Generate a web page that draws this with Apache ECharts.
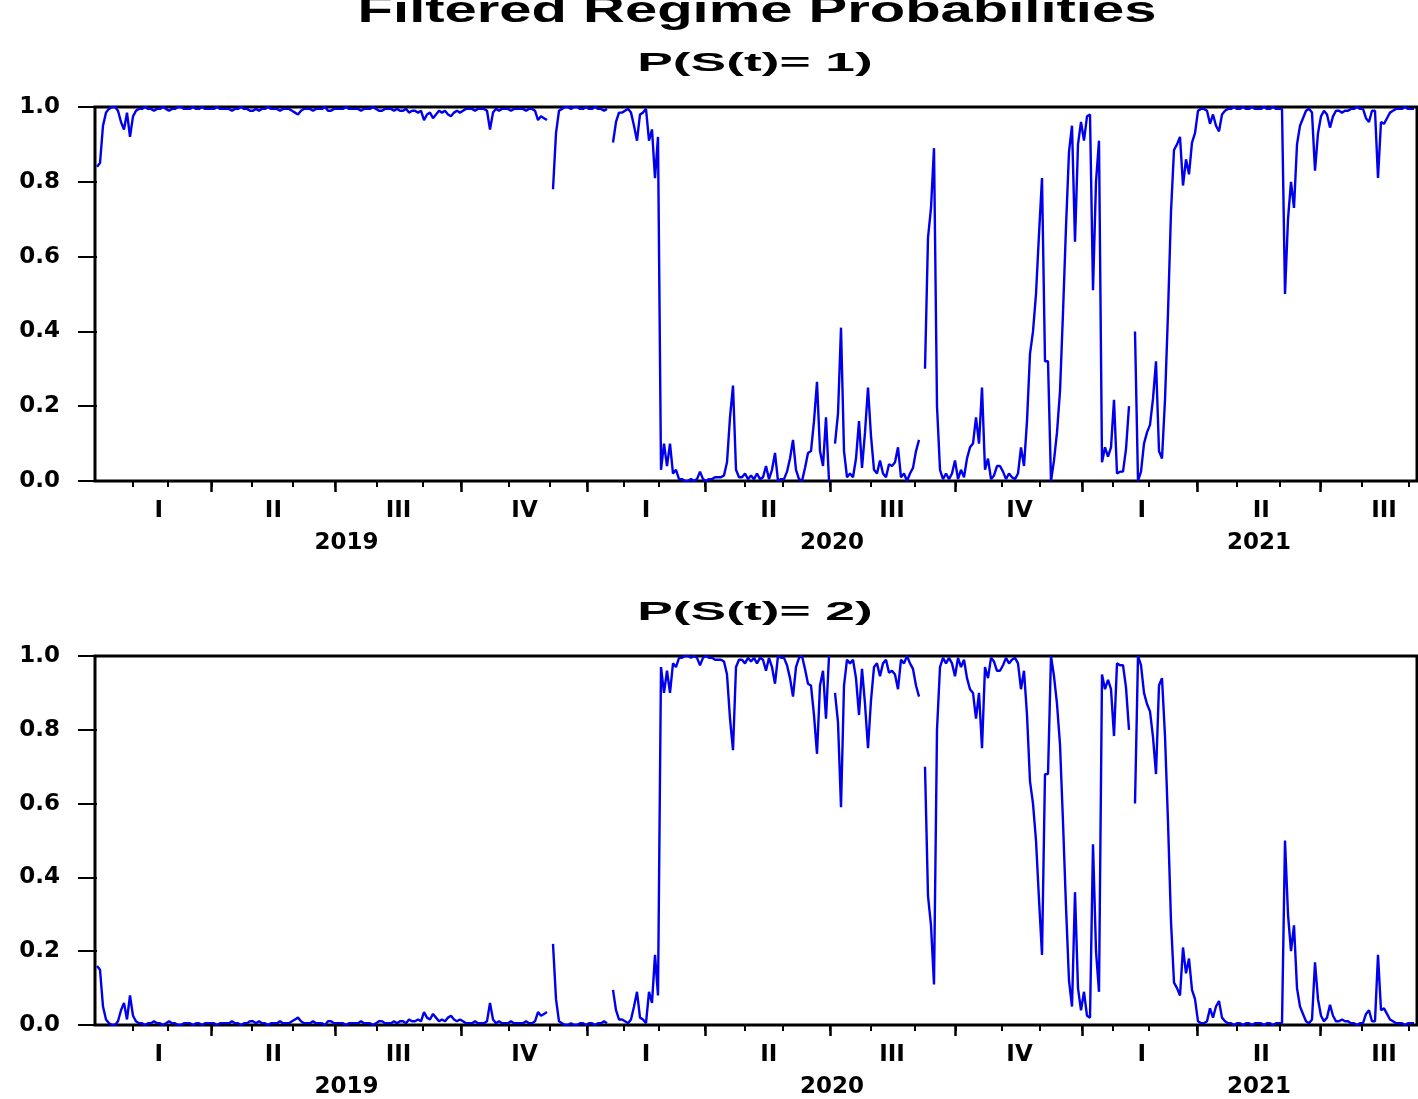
<!DOCTYPE html>
<html>
<head>
<meta charset="utf-8">
<script src="https://cdn.jsdelivr.net/npm/echarts@6/dist/echarts.min.js"></script>
<style>
html,body{margin:0;padding:0;background:#fff;}
#chart{width:1418px;height:1099px;}
</style>
</head>
<body>
<div id="chart"></div>
<script>
// ---------- text ----------
const titleText = 'Filtered Regime Probabilities';
const panelTitles = ['P(S(t)= 1)', 'P(S(t)= 2)'];

// ---------- x axis (observation number) ----------
const obsMin = -0.667;
const obsMax = 440;
// first observation of each month (Feb 2019 ... Sep 2021)
const monthTicks = [12.0, 23.5, 38.1, 51.5, 65.3, 79.3, 93.3, 108.7, 121.3, 137.3, 151.0, 163.3,
  175.5, 187.3, 202.7, 216.0, 228.5, 244.3, 258.0, 272.7, 286.2, 301.5, 314.3, 328.3,
  338.7, 350.7, 366.6, 380.0, 394.1, 407.9, 421.7, 437.3];
// first observation of each quarter
const quarterTicks = [38.1, 79.3, 121.3, 163.3, 202.7, 244.3, 286.2, 328.3, 366.6, 407.9];
const quarterLabelPos = [20.6, 58.8, 100.5, 142.5, 183.0, 223.9, 265.0, 307.5, 348.3, 388.1, 429.0];
const quarterLabels = ['I', 'II', 'III', 'IV', 'I', 'II', 'III', 'IV', 'I', 'II', 'III'];
const yearLabelPos = [83.2, 245.0, 387.3];
const yearLabels = ['2019', '2020', '2021'];

// ---------- y axis ----------
const yMin = 0, yMax = 1, yStep = 0.2;

// ---------- data: filtered probability of regime 1 (null = missing) ----------
const probRegime1 = [
  0.84,0.85,0.95,0.985,0.995,1.0,1.0,0.99,0.96,0.94,0.985,0.92,0.975,0.99,
  0.995,0.995,1.0,0.995,0.995,0.99,0.995,0.995,1.0,0.995,
  0.99,0.995,0.995,1.0,1.0,0.995,0.995,0.995,1.0,0.995,
  0.995,1.0,0.995,0.995,0.995,0.995,1.0,0.995,0.995,0.995,
  0.995,0.99,0.995,0.995,1.0,0.995,0.995,0.99,0.99,0.995,
  0.99,0.995,0.995,1.0,0.995,0.995,0.995,0.99,0.995,0.995,
  0.995,0.99,0.985,0.98,0.99,0.995,0.995,0.995,0.99,0.995,
  0.995,0.995,1.0,0.99,0.99,0.995,0.995,0.995,0.995,1.0,
  0.995,0.995,0.995,0.995,0.99,0.995,0.995,0.995,1.0,0.995,
  0.99,0.99,0.995,0.995,0.995,0.99,0.995,0.99,0.99,0.995,
  0.985,0.99,0.99,0.985,
  0.99,0.965,0.98,0.985,0.97,0.98,0.99,0.985,0.99,0.98,0.975,0.985,0.99,0.985,0.99,0.995,
  0.995,0.995,0.99,0.995,0.995,0.995,0.99,0.94,0.985,
  0.995,0.99,0.995,0.995,0.995,0.99,0.995,0.995,0.995,0.995,0.99,0.995,0.995,0.99,
  0.965,0.975,0.97,0.965,
  null,
  0.78,0.93,0.99,
  0.995,1.0,1.0,0.995,1.0,1.0,0.995,0.995,1.0,0.995,0.995,1.0,0.995,0.995,0.99,0.995,
  null,
  0.905,0.96,0.985,0.985,0.99,0.995,0.985,0.95,0.91,0.98,0.985,0.995,0.91,0.94,0.81,0.92,
  0.03,0.10,0.04,0.10,0.02,0.03,0.005,
  0.005,0.0,0.0,0.005,0.0,0.005,0.025,0.005,0.0,0.005,0.005,0.01,0.01,0.01,0.015,
  0.05,0.17,0.255,0.03,0.01,0.01,0.02,0.005,0.015,0.005,0.02,0.005,0.01,0.04,0.005,0.03,
  0.075,0.0,0.005,0.005,0.025,0.06,0.11,0.03,0.005,0.0,0.035,0.075,0.08,0.16,0.265,0.08,
  0.04,0.17,0.0,
  null,
  0.10,0.18,0.41,0.08,0.01,0.02,0.01,0.06,0.16,0.035,0.13,0.25,0.12,0.03,0.02,0.055,
  0.02,0.01,0.045,0.04,0.05,0.09,0.01,0.02,0.0,0.02,0.035,0.08,0.11,
  null,
  0.30,0.65,0.73,0.89,0.20,0.03,0.005,0.02,0.005,0.02,0.055,0.005,0.03,0.01,0.06,0.09,
  0.10,0.17,0.10,0.25,0.03,0.06,0.005,0.015,0.04,0.04,0.025,0.005,0.02,0.01,0.005,0.02,
  0.09,0.04,0.16,0.34,0.40,0.50,0.66,0.81,0.32,0.32,
  0.0,0.055,0.13,0.24,0.45,0.68,0.88,0.95,0.64,0.90,0.96,0.91,0.975,0.98,0.51,0.80,0.91,
  0.05,0.09,0.065,0.09,0.217,0.02,0.025,0.025,0.085,0.2,
  null,
  0.40,0.0,0.025,0.10,0.13,0.15,0.22,0.32,0.08,0.06,0.217,0.45,0.72,0.885,0.90,0.92,
  0.79,0.86,0.82,0.905,0.93,
  0.99,0.995,0.995,0.99,0.955,0.98,0.95,0.935,0.98,0.99,0.995,
  0.995,1.0,0.995,0.995,1.0,0.995,0.995,1.0,0.995,0.995,0.995,1.0,0.995,0.995,1.0,0.995,0.995,0.995,
  0.50,0.70,0.80,0.73,0.90,0.95,0.97,0.99,0.995,0.985,0.83,0.93,0.975,0.99,0.98,0.945,
  0.975,0.99,0.99,0.985,0.99,0.99,0.995,0.995,1.0,0.995,0.995,0.97,0.96,0.99,0.99,0.81,
  0.96,0.955,0.97,0.985,0.99,0.995,0.995,0.995,1.0,0.995,0.995,0.995
];
// regime 2 probability is the complement of regime 1 at every observation
const probRegime2 = probRegime1.map(v => v == null ? null : +(1 - v).toFixed(3));

// ---------- chart ----------
const lineColor = '#0000ee';
const axisFont = { fontFamily: 'DejaVu Sans', fontWeight: 'bold', fontSize: 23, color: '#000' };

function xAxesFor(gridIndex) {
  const base = { type: 'value', gridIndex, min: obsMin, max: obsMax, position: 'bottom', splitLine: { show: false } };
  return [
    Object.assign({}, base, {
      axisLine: { show: false, onZero: false },
      axisTick: { show: true, customValues: monthTicks, length: 6, lineStyle: { color: '#000', width: 2 } },
      axisLabel: Object.assign({ show: true, customValues: quarterLabelPos, margin: 19,
        formatter: v => quarterLabels[quarterLabelPos.indexOf(v)] || '' }, axisFont)
    }),
    Object.assign({}, base, {
      axisLine: { show: false, onZero: false },
      axisTick: { show: true, customValues: quarterTicks, length: 11, lineStyle: { color: '#000', width: 2.5 } },
      axisLabel: { show: false }
    }),
    Object.assign({}, base, {
      axisLine: { show: false, onZero: false },
      axisTick: { show: false },
      axisLabel: Object.assign({ show: true, customValues: yearLabelPos, margin: 51,
        formatter: v => yearLabels[yearLabelPos.indexOf(v)] || '' }, axisFont)
    })
  ];
}

function yAxisFor(gridIndex) {
  return {
    type: 'value', gridIndex, min: yMin, max: yMax, interval: yStep,
    axisLine: { show: false },
    axisTick: { show: true, length: 19, lineStyle: { color: '#000', width: 2 } },
    axisLabel: Object.assign({ margin: 35, formatter: v => v.toFixed(1) }, axisFont),
    splitLine: { show: false }
  };
}

const gridBase = { left: 95, width: 1322, show: true, borderColor: '#000', borderWidth: 3, backgroundColor: 'transparent' };

function subtitle(text, y) {
  return {
    type: 'text', x: 755, y: y, scaleX: 2.05, silent: true,
    style: { text: text, fontFamily: 'Liberation Sans', fontWeight: 'bold', fontSize: 26,
      fill: '#000', align: 'center', verticalAlign: 'middle' }
  };
}

const option = {
  animation: false,
  backgroundColor: '#fff',
  grid: [
    Object.assign({}, gridBase, { top: 107, height: 374 }),
    Object.assign({}, gridBase, { top: 656, height: 373 })
  ],
  xAxis: xAxesFor(0).concat(xAxesFor(1)),
  yAxis: [yAxisFor(0), yAxisFor(1)],
  graphic: [
    {
      type: 'text', x: 757, y: 11.8, scaleX: 1.61, silent: true,
      style: { text: titleText, fontFamily: 'Liberation Sans', fontWeight: 'bold', fontSize: 36,
        fill: '#000', align: 'center', verticalAlign: 'middle' }
    },
    subtitle(panelTitles[0], 63.6),
    subtitle(panelTitles[1], 612.6)
  ],
  series: [
    {
      type: 'line', xAxisIndex: 0, yAxisIndex: 0, showSymbol: false, connectNulls: false,
      lineStyle: { color: lineColor, width: 2.4 }, itemStyle: { color: lineColor },
      data: probRegime1.map((v, i) => [i, v])
    },
    {
      type: 'line', xAxisIndex: 3, yAxisIndex: 1, showSymbol: false, connectNulls: false,
      lineStyle: { color: lineColor, width: 2.4 }, itemStyle: { color: lineColor },
      data: probRegime2.map((v, i) => [i, v])
    }
  ]
};

const chart = echarts.init(document.getElementById('chart'), null, { renderer: 'canvas' });
chart.setOption(option);
</script>
</body>
</html>
